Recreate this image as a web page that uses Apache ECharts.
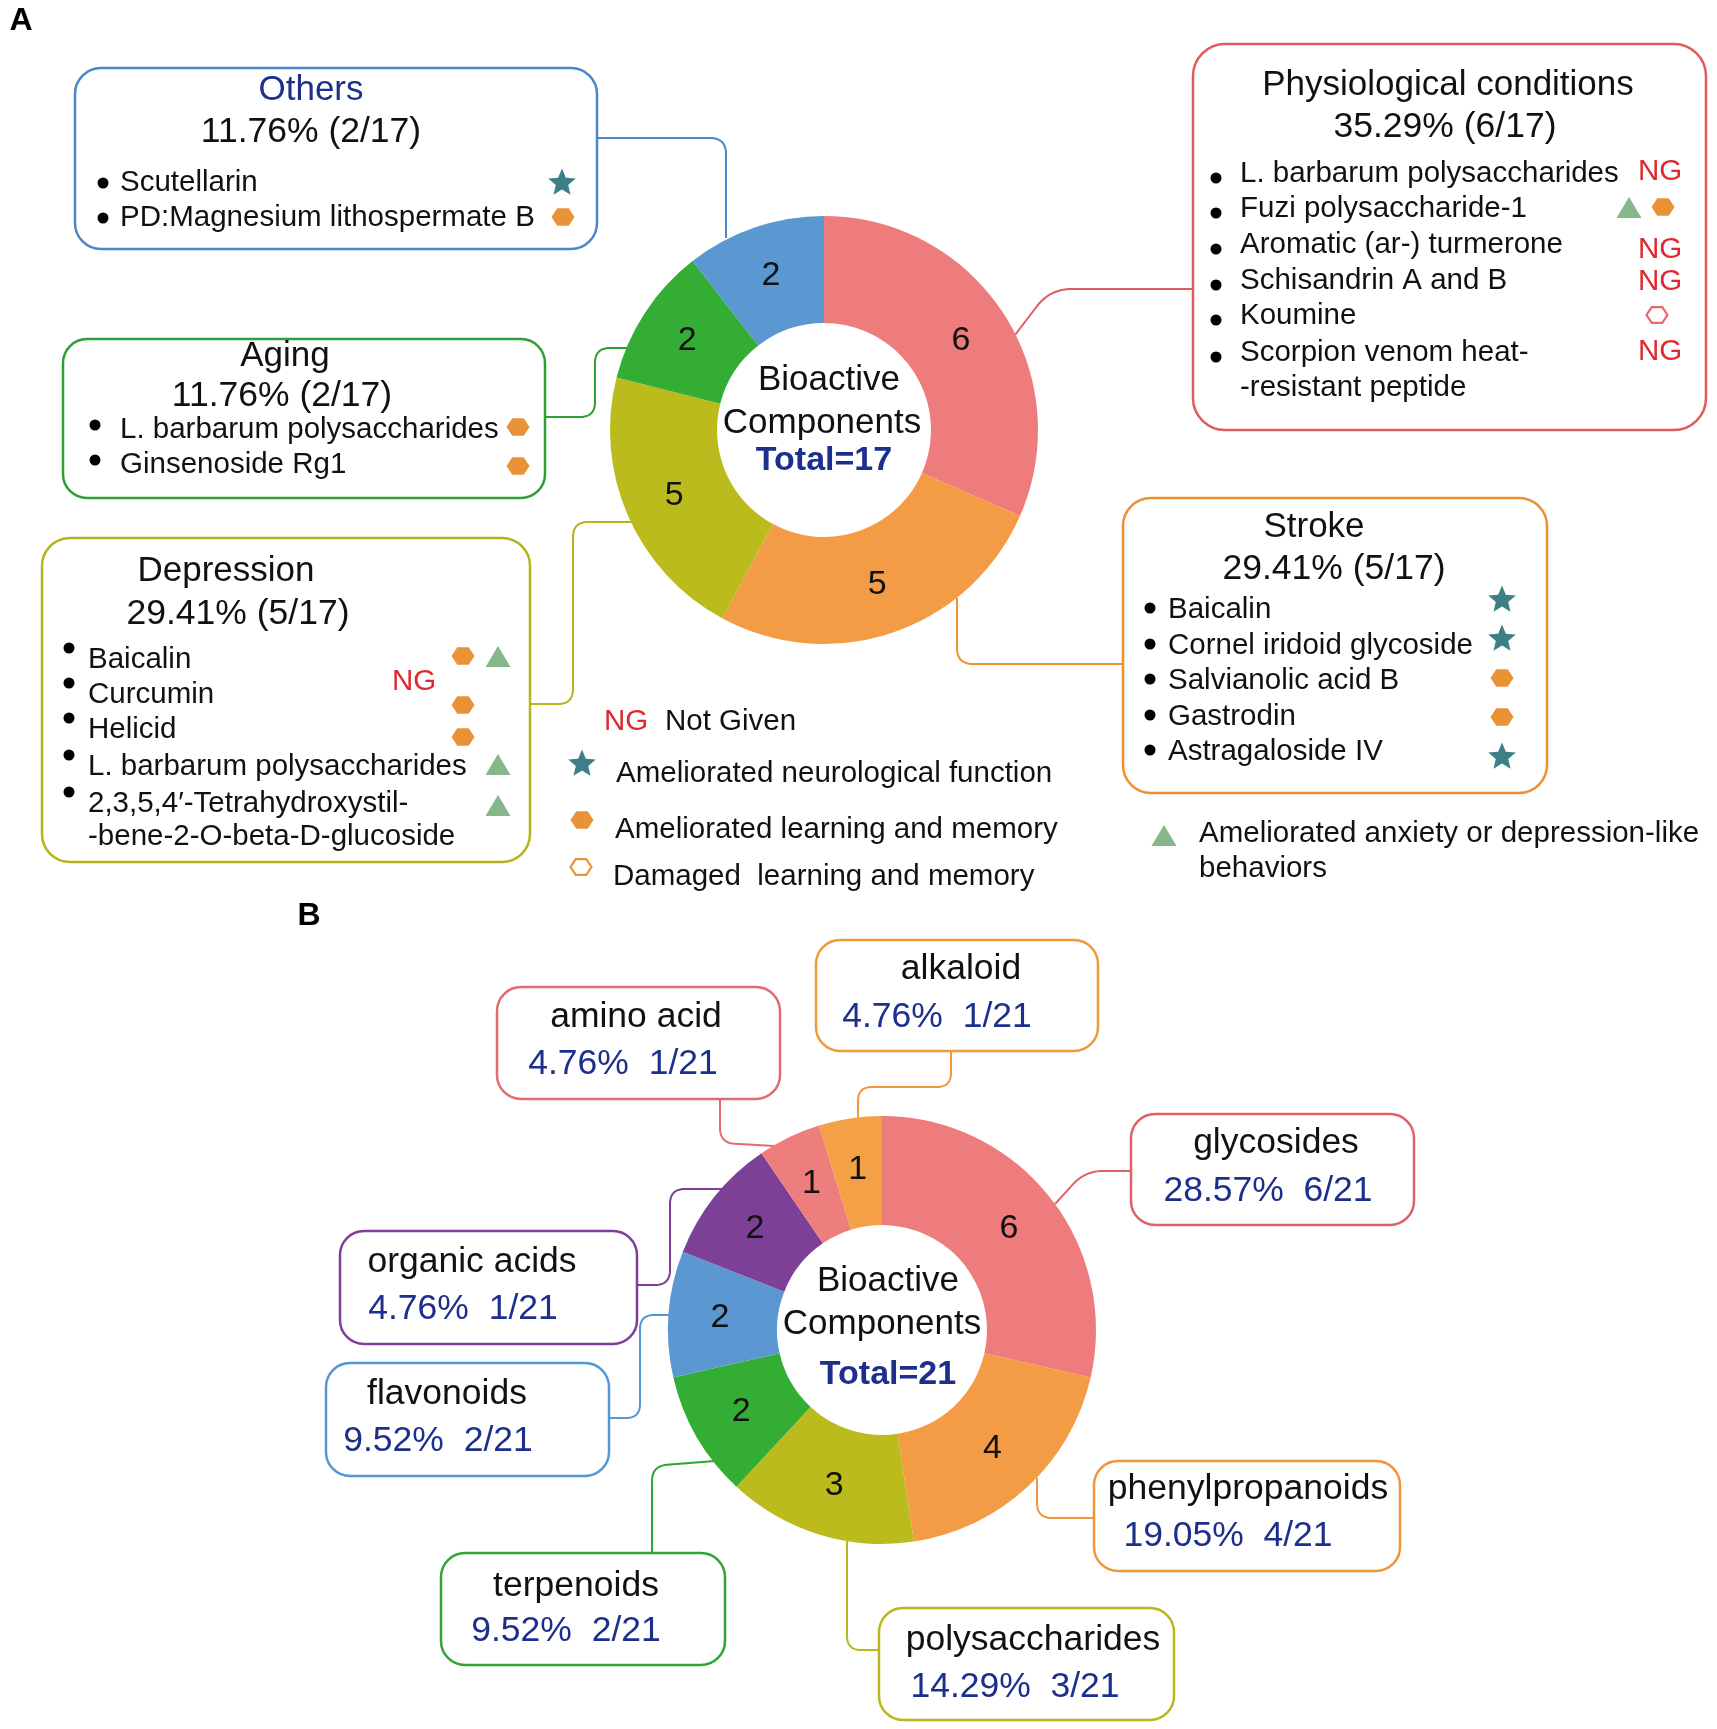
<!DOCTYPE html>
<html><head><meta charset="utf-8">
<script src="https://cdn.jsdelivr.net/npm/echarts@6/dist/echarts.min.js"></script>
<style>html,body{margin:0;padding:0;background:#fff}#c{width:1717px;height:1729px}</style>
</head><body><div id="c"></div>
<script>
// ================= DATA =================
// Panel A
const catsA   = ['Physiological conditions', 'Stroke', 'Depression', 'Aging', 'Others'];
const countsA = [6, 5, 5, 2, 2];        // numbers printed in the slices
const arcsA   = [6, 5, 4, 2, 2];        // relative slice sizes as drawn
const totalA  = 17;
const pctA    = ['35.29% (6/17)', '29.41% (5/17)', '29.41% (5/17)', '11.76% (2/17)', '11.76% (2/17)'];
const itemsPhys   = ['L. barbarum polysaccharides', 'Fuzi polysaccharide-1', 'Aromatic (ar-) turmerone', 'Schisandrin A and B', 'Koumine', 'Scorpion venom heat-', '-resistant peptide'];
const marksPhys   = [['NG'], ['tri', 'hex'], ['NG'], ['NG'], ['hexo'], ['NG']];
const itemsStroke = ['Baicalin', 'Cornel iridoid glycoside', 'Salvianolic acid B', 'Gastrodin', 'Astragaloside IV'];
const marksStroke = ['star', 'star', 'hex', 'hex', 'star'];
const itemsDep    = ['Baicalin', 'Curcumin', 'Helicid', 'L. barbarum polysaccharides', '2,3,5,4\u2032-Tetrahydroxystil-', '-bene-2-O-beta-D-glucoside'];
const itemsAging  = ['L. barbarum polysaccharides', 'Ginsenoside Rg1'];
const marksAging  = ['hex', 'hex'];
const itemsOthers = ['Scutellarin', 'PD:Magnesium lithospermate B'];
const marksOthers = ['star', 'hex'];
const legendItems = ['Not Given', 'Ameliorated neurological function', 'Ameliorated learning and memory', 'Damaged  learning and memory', 'Ameliorated anxiety or depression-like', 'behaviors'];
// Panel B
const catsB   = ['glycosides', 'phenylpropanoids', 'polysaccharides', 'terpenoids', 'flavonoids', 'organic acids', 'amino acid', 'alkaloid'];
const countsB = [6, 4, 3, 2, 2, 2, 1, 1];
const totalB  = 21;
const pctB    = ['28.57%  6/21', '19.05%  4/21', '14.29%  3/21', '9.52%  2/21', '9.52%  2/21', '4.76%  1/21', '4.76%  1/21', '4.76%  1/21'];

// ================= STYLE / LAYOUT =================
const F = '"Liberation Sans", Arial, Helvetica, sans-serif';
const DB = '#1c2f8c', NGC = '#e0282e', TEAL = '#3d7f87', HEXC = '#ea9236', TRIC = '#86b78b';
const colA = ['#ee7c7c', '#f39b45', '#bcbb1e', '#34ad35', '#5b97d0'];
const colB = ['#ee7c7c', '#f39b45', '#bcbb1e', '#34ad35', '#5b97d0', '#7d4097', '#ee7e7e', '#f4a046'];
const G = [];
function T(x, y, text, size, color, align, weight) {
  G.push({type: 'text', x: x, y: y + 2, z: 10, silent: true,
    style: {text: text, fill: color || '#111', font: (weight || 'normal') + ' ' + size + 'px ' + F,
      align: align || 'left', textAlign: align || 'left', verticalAlign: 'middle', textVerticalAlign: 'middle'}});
}
function R(x1, y1, x2, y2, color, r) {
  G.push({type: 'rect', z: 8, silent: true, shape: {x: x1, y: y1, width: x2 - x1, height: y2 - y1, r: r},
    style: {fill: '#fff', stroke: color, lineWidth: 2.5}});
}
function L(pts, color, r) {
  const out = [pts[0]];
  for (let i = 1; i < pts.length - 1; i++) {
    const p0 = pts[i - 1], p1 = pts[i], p2 = pts[i + 1];
    const d1 = Math.hypot(p1[0] - p0[0], p1[1] - p0[1]), d2 = Math.hypot(p2[0] - p1[0], p2[1] - p1[1]);
    const rr = Math.min(r, d1 / 2, d2 / 2);
    const a = [p1[0] + (p0[0] - p1[0]) * rr / d1, p1[1] + (p0[1] - p1[1]) * rr / d1];
    const b = [p1[0] + (p2[0] - p1[0]) * rr / d2, p1[1] + (p2[1] - p1[1]) * rr / d2];
    for (let k = 0; k <= 12; k++) {
      const t = k / 12;
      out.push([(1 - t) * (1 - t) * a[0] + 2 * (1 - t) * t * p1[0] + t * t * b[0],
                (1 - t) * (1 - t) * a[1] + 2 * (1 - t) * t * p1[1] + t * t * b[1]]);
    }
  }
  out.push(pts[pts.length - 1]);
  G.push({type: 'polyline', z: 1, silent: true, shape: {points: out}, style: {stroke: color, lineWidth: 2, fill: null}});
}
function star(cx, cy, r) {
  const pts = [];
  for (let i = 0; i < 10; i++) {
    const ang = -Math.PI / 2 + i * Math.PI / 5, rad = i % 2 ? r * 0.45 : r;
    pts.push([cx + rad * Math.cos(ang), cy + rad * Math.sin(ang)]);
  }
  G.push({type: 'polygon', z: 10, silent: true, shape: {points: pts}, style: {fill: TEAL}});
}
function hex(cx, cy, r, color, hollow) {
  const pts = [];
  for (let i = 0; i < 6; i++) { const ang = i * Math.PI / 3; pts.push([cx + r * Math.cos(ang), cy + r * 0.87 * Math.sin(ang)]); }
  G.push({type: 'polygon', z: 10, silent: true, shape: {points: pts},
    style: hollow ? {fill: '#fff', stroke: color, lineWidth: 2.2} : {fill: color}});
}
function tri(cx, cy) {
  G.push({type: 'polygon', z: 10, silent: true, shape: {points: [[cx, cy - 11], [cx + 12.5, cy + 10], [cx - 12.5, cy + 10]]}, style: {fill: TRIC}});
}
function dot(cx, cy) { G.push({type: 'circle', z: 10, silent: true, shape: {cx: cx, cy: cy, r: 5.5}, style: {fill: '#000'}}); }
function mark(type, cx, cy) {
  if (type === 'star') star(cx, cy, 14.5);
  else if (type === 'hex') hex(cx, cy, 11.5, HEXC);
  else if (type === 'hexo') hex(cx, cy, 10.5, '#e8676b', true);
  else if (type === 'tri') tri(cx, cy);
  else if (type === 'NG') T(cx, cy - 2, 'NG', 29.5, NGC, 'center');
}

// ---------- Panel A ----------
T(21, 19, 'A', 32, '#000', 'center', 'bold');
// connectors
L([[597, 138], [726, 138], [726, 238]], '#4a89c8', 16);
L([[1015, 335], [1050, 289], [1193, 289]], '#e05b5e', 22);
L([[545, 417], [595, 417], [595, 348], [628, 348]], '#2f9e35', 15);
L([[530, 704], [573, 704], [573, 522], [632, 522]], '#b4b41c', 15);
L([[957, 598], [957, 664], [1123, 664]], '#ef902f', 16);
// Others
R(75, 68, 597, 249, '#4a89c8', 26);
T(311, 88, catsA[4], 35, DB, 'center');
T(311, 130, pctA[4], 35.5, '#111', 'center');
[181, 216].forEach((y, i) => { dot(103, y + 2); T(120, y, itemsOthers[i], 29.5); });
mark(marksOthers[0], 562, 183); mark(marksOthers[1], 563, 217);
// Physiological conditions
R(1193, 44, 1706, 430, '#e05b5e', 32);
T(1448, 83, catsA[0], 35, '#111', 'center');
T(1445, 125, pctA[0], 35.5, '#111', 'center');
const yPhys = [172, 207, 243, 279, 314, 351, 386];
yPhys.forEach((y, i) => { if (i < 6) dot(1216, y + 6); T(1240, y, itemsPhys[i], 29.5); });
mark(marksPhys[0][0], 1660, 172);
mark(marksPhys[1][0], 1629, 208); mark(marksPhys[1][1], 1663, 207);
mark(marksPhys[2][0], 1660, 250);
mark(marksPhys[3][0], 1660, 282);
mark(marksPhys[4][0], 1657, 315);
mark(marksPhys[5][0], 1660, 352);
// Aging
R(63, 339, 545, 498, '#2f9e35', 24);
T(285, 354, catsA[3], 35, '#111', 'center');
T(282, 394, pctA[3], 35.5, '#111', 'center');
[428, 463].forEach((y, i) => { dot(95, y - 3); T(120, y, itemsAging[i], 29.5); });
mark(marksAging[0], 518, 427); mark(marksAging[1], 518, 466);
// Depression
R(42, 538, 530, 862, '#b4b41c', 28);
T(226, 569, catsA[2], 35, '#111', 'center');
T(238, 612, pctA[2], 35.5, '#111', 'center');
const yDep = [658, 693, 728, 765, 802, 835];
yDep.forEach((y, i) => { if (i < 5) dot(69, y - 10); T(88, y, itemsDep[i], 29.5); });
mark('NG', 414, 682);
mark('hex', 463, 656); mark('hex', 463, 705); mark('hex', 463, 737);
mark('tri', 498, 657); mark('tri', 498, 765); mark('tri', 498, 806);
// Stroke
R(1123, 498, 1547, 793, '#ef902f', 28);
T(1314, 525, catsA[1], 35, '#111', 'center');
T(1334, 567, pctA[1], 35.5, '#111', 'center');
const yStroke = [608, 644, 679, 715, 750];
yStroke.forEach((y, i) => { dot(1150, y); T(1168, y, itemsStroke[i], 29.5); });
[600, 639, 678, 717, 757].forEach((y, i) => mark(marksStroke[i], 1502, y));
// Centre text A
T(829, 378, 'Bioactive', 35, '#111', 'center');
T(822, 421, 'Components', 35, '#111', 'center');
T(824, 459, 'Total=' + totalA, 34, DB, 'center', 'bold');
// Legend
T(604, 720, 'NG', 29.5, NGC, 'left');
T(665, 720, legendItems[0], 29.5);
mark('star', 582, 764); T(616, 772, legendItems[1], 29.5);
mark('hex', 582, 820); T(615, 828, legendItems[2], 29.5);
hex(581, 867, 10.5, HEXC, true); T(613, 875, legendItems[3], 29.5);
mark('tri', 1164, 836); T(1199, 832, legendItems[4], 29.5); T(1199, 867, legendItems[5], 29.5);

// ---------- Panel B ----------
T(309, 914, 'B', 32, '#000', 'center', 'bold');
L([[720, 1099], [720, 1143], [774, 1146]], '#e26b6d', 15);
L([[951, 1051], [951, 1087], [858, 1087], [858, 1118]], '#f0993a', 14);
L([[1131, 1171], [1085, 1171], [1055, 1204]], '#e06165', 18);
L([[637, 1285], [670, 1285], [670, 1189], [722, 1189]], '#7d3f97', 15);
L([[609, 1418], [640, 1418], [640, 1315], [669, 1315]], '#5596d5', 14);
L([[652, 1553], [652, 1466], [715, 1461]], '#2fa537', 15);
L([[1037, 1478], [1037, 1518], [1094, 1518]], '#f0953a', 15);
L([[847, 1541], [847, 1650], [879, 1650]], '#b8b81e', 14);
const boxesB = [
  // [x1,y1,x2,y2,color, titleX,titleY, pctX,pctY] in order of catsB
  [1131, 1114, 1414, 1225, '#e06165', 1276, 1141, 1268, 1189],
  [1094, 1461, 1400, 1571, '#f0953a', 1248, 1487, 1228, 1534],
  [879, 1608, 1174, 1720, '#b8b81e', 1033, 1638, 1015, 1685],
  [441, 1553, 725, 1665, '#2fa537', 576, 1584, 566, 1629],
  [326, 1363, 609, 1476, '#5596d5', 447, 1392, 438, 1439],
  [340, 1231, 637, 1344, '#7d3f97', 472, 1260, 463, 1307],
  [497, 987, 780, 1099, '#e26b6d', 636, 1015, 623, 1062],
  [816, 940, 1098, 1051, '#f0993a', 961, 967, 937, 1015]
];
boxesB.forEach((b, i) => {
  R(b[0], b[1], b[2], b[3], b[4], 24);
  T(b[5], b[6], catsB[i], 35.5, '#111', 'center');
  T(b[7], b[8], pctB[i], 35.5, DB, 'center');
});
T(888, 1279, 'Bioactive', 35, '#111', 'center');
T(882, 1322, 'Components', 35, '#111', 'center');
T(888, 1373, 'Total=' + totalB, 34, DB, 'center', 'bold');

// ================= CHART =================
const chart = echarts.init(document.getElementById('c'), null, {renderer: 'canvas'});
const pieBase = {
  type: 'pie', startAngle: 90, clockwise: true, silent: true, animation: false, z: 2,
  labelLine: {show: false}, emphasis: {disabled: true},
  itemStyle: {borderWidth: 0}
};
chart.setOption({
  backgroundColor: '#fff',
  animation: false,
  series: [
    Object.assign({}, pieBase, {
      center: [824, 430], radius: [107, 214],
      label: {show: true, position: 'inside', formatter: p => String(countsA[p.dataIndex]),
        fontSize: 34, color: '#111', fontFamily: F, textBorderWidth: 0},
      data: catsA.map((n, i) => ({name: n, value: arcsA[i], itemStyle: {color: colA[i]}}))
    }),
    Object.assign({}, pieBase, {
      center: [882, 1330], radius: [105, 214],
      label: {show: true, position: 'inside', formatter: p => String(countsB[p.dataIndex]),
        fontSize: 34, color: '#111', fontFamily: F, textBorderWidth: 0},
      data: catsB.map((n, i) => ({name: n, value: countsB[i], itemStyle: {color: colB[i]}}))
    })
  ],
  graphic: {elements: G}
});
</script>
</body></html>
